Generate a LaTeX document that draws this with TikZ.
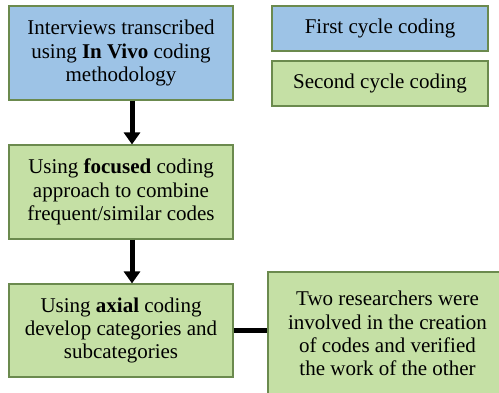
\documentclass[tikz,border=0pt]{standalone}
\usepackage{fontspec}
\setmainfont{Liberation Serif}
\usetikzlibrary{arrows.meta}
\definecolor{firstfill}{HTML}{9DC3E6}
\definecolor{secondfill}{HTML}{C5E0A5}
\definecolor{boxline}{HTML}{6B8A4E}
\tikzset{
  x=1pt, y=-1pt,
  codebox/.style={draw=boxline, line width=1.1pt, align=center, inner sep=0pt,
    font=\fontsize{21}{23.3}\selectfont},
  firstbox/.style={codebox, fill=firstfill},
  secondbox/.style={codebox, fill=secondfill},
  flow/.style={line width=5pt, -{Triangle[width=16pt,length=12pt]}},
  link/.style={line width=5pt}
}
\begin{document}
\begin{tikzpicture}
\useasboundingbox (0,0) rectangle (499,393);
\clip (0,0) rectangle (499,393);
% main sequence
\node[firstbox, minimum width=224pt, minimum height=94pt] (b1) at (121,53)
  {Interviews transcribed\\using \textbf{In Vivo} coding\\methodology};
\node[secondbox, minimum width=224pt, minimum height=94pt] (b2) at (121,192)
  {Using \textbf{focused} coding\\approach to combine\\frequent/similar codes};
\node[secondbox, minimum width=224pt, minimum height=93pt] (b3) at (121,330.5)
  {Using \textbf{axial} coding\\develop categories and\\subcategories};
\node[secondbox, minimum width=239pt, minimum height=123pt] (b4) at (387.5,333.5)
  {Two researchers were\\involved in the creation\\of codes and verified\\the work of the other};
% legend
\node[firstbox, minimum width=216pt, minimum height=45pt] (lg1) at (380,28.5)
  {First cycle coding};
\node[secondbox, minimum width=216pt, minimum height=45pt] (lg2) at (380,83.5)
  {Second cycle coding};
% connectors
\draw[flow] (b1.south -| 132,0) -- (b2.north -| 132,0);
\draw[flow] (b2.south -| 132,0) -- (b3.north -| 132,0);
\draw[link] (b3.east) -- (b3.east -| b4.west);
\end{tikzpicture}
\end{document}
